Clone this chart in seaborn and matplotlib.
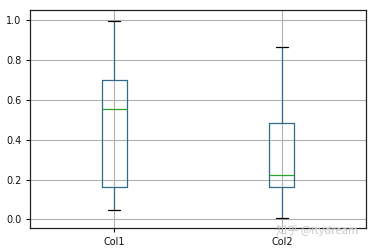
import matplotlib
matplotlib.use("Agg")
import matplotlib.pyplot as plt
import seaborn as sns
import pandas as pd

# five-number summaries: min, Q1, median, Q3, max
col1 = [0.045, 0.161, 0.557, 0.703, 0.998]
col2 = [0.005, 0.161, 0.222, 0.482, 0.868]
columns = ["Col1", "Col2"]

df = pd.DataFrame({"Col1": col1, "Col2": col2})
long = df.melt(var_name="col", value_name="val")

sns.set_style("white")
plt.rcParams['font.family'] = ['DejaVu Sans']
fig = plt.figure(figsize=(3.75, 2.52), dpi=100)
ax = fig.add_axes([0.081, 0.094, 0.894, 0.866])

box_c = "#2f6b8a"
sns.boxplot(data=long, x="col", y="val", order=columns, ax=ax,
            width=0.15, whis=(0, 100), fill=False, color=box_c,
            linewidth=0.9,
            medianprops=dict(color="#2ca02c", linewidth=0.9),
            capprops=dict(color="black", linewidth=0.9),
            whiskerprops=dict(color=box_c, linewidth=0.9),
            boxprops=dict(color=box_c, linewidth=0.9))

ax.set_xlim(-0.5, 1.5)
ax.set_ylim(-0.045, 1.052)
ax.set_yticks([0.0, 0.2, 0.4, 0.6, 0.8, 1.0])
ax.set_xlabel("")
ax.set_ylabel("")
ax.grid(True, color="#b0b0b0", linewidth=0.8)
ax.set_axisbelow(True)
ax.tick_params(axis="both", labelsize=7, length=3, width=0.8, direction="out",
               left=True, bottom=True, colors="#111111")
for s in ax.spines.values():
    s.set_color("#222222")
    s.set_linewidth(0.9)

fig.text(0.847, 0.085, "知乎 @itydream", fontsize=8, color="#c8c8c8",
         ha="center", va="center",
         family=["Noto Sans CJK SC", "DejaVu Sans"])

fig.savefig("out.png", dpi=100)
